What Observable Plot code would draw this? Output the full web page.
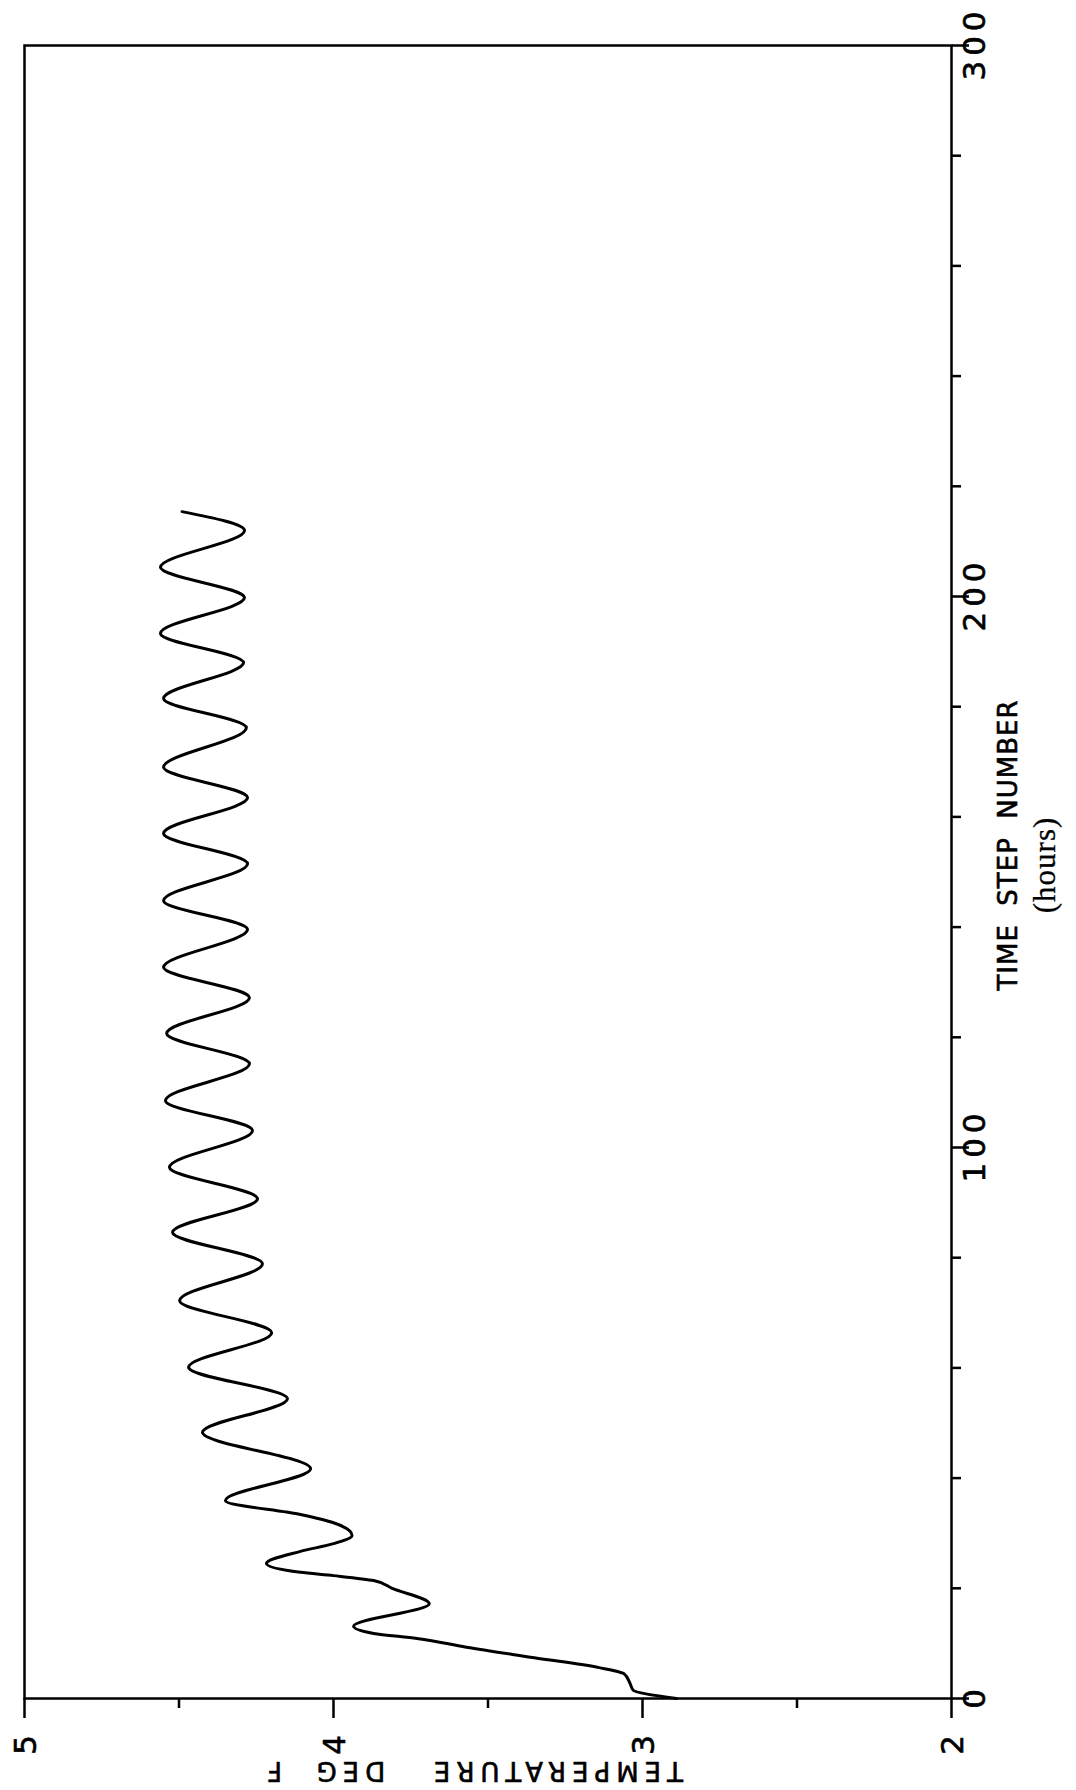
<!DOCTYPE html>
<html><head><meta charset="utf-8">
<script src="https://cdn.jsdelivr.net/npm/d3@7"></script>
<script src="https://cdn.jsdelivr.net/npm/@observablehq/plot@0.6"></script>
<style>
html,body{margin:0;padding:0;background:#fff;}
svg text{white-space:pre;}
</style></head><body><div id="chart"></div>
<script>
// Time step (hours)
const timeStep = [0, 1.5, 2.7, 4.5, 5.6, 7.4, 9.3, 10.9, 11.8, 13.1,
  17.2, 20.0, 21.4, 22.3, 22.9, 24.5, 26.7, 28.1, 29.6, 31.9, 33.4, 35.9,
  41.7, 48.3, 54.4, 60.1, 66.4, 72.2, 78.9, 84.6, 90.7, 96.4, 103.1, 108.5,
  115.2, 120.7, 127.2, 132.7, 139.6, 144.8, 151.5, 157.0, 163.5, 169.0,
  176.2, 181.5, 188.0, 193.3, 199.8, 205.3, 212.0, 215.4];
// Temperature (deg F) at those steps
const temperature = [2.89, 3.03, 3.04, 3.06, 3.14, 3.35, 3.57, 3.73, 3.87, 3.935,
  3.69, 3.81, 3.87, 4.0, 4.107, 4.217, 4.107, 4.0, 3.94, 4.0, 4.107, 4.35,
  4.074, 4.424, 4.149, 4.469, 4.20, 4.498, 4.23, 4.521, 4.246, 4.531, 4.262, 4.544,
  4.272, 4.54, 4.272, 4.55, 4.278, 4.55, 4.278, 4.55, 4.278, 4.55,
  4.282, 4.55, 4.291, 4.56, 4.288, 4.56, 4.288, 4.49];

const tempMajorTicks = [5, 4, 3, 2];
const tempMinorTicks = [4.5, 3.5, 2.5];
const timeMajorTicks = [0, 100, 200, 300];
const timeMinorTicks = [20, 40, 60, 80, 120, 140, 160, 180, 220, 240, 260, 280];
const xTitle = "TIME  STEP  NUMBER";
const xSubtitle = "(hours)";
const yTitle = "TEMPERATURE   DEG  F";

const data = timeStep.map((t, i) => ({t, temp: temperature[i]}));

const pen = {textAnchor: "middle", lineAnchor: "middle", fill: "#000", stroke: "#000", strokeWidth: 0.6};

const chart = Plot.plot({
  width: 1076, height: 1790,
  marginLeft: 24, marginRight: 125, marginTop: 45, marginBottom: 92,
  style: {background: "#fff", color: "#000", fontFamily: "DejaVu Sans"},
  x: {domain: [5, 2]},
  y: {domain: [0, 300]},
  marks: [
    Plot.frame({stroke: "#000", strokeWidth: 2.5}),
    Plot.axisX({ticks: tempMajorTicks, anchor: "bottom", tickSize: 20, tickFormat: () => "", strokeWidth: 2.5, label: null}),
    Plot.axisX({ticks: tempMinorTicks, anchor: "bottom", tickSize: 10, tickFormat: () => "", strokeWidth: 2.5, label: null}),
    Plot.axisY({ticks: timeMajorTicks, anchor: "right", tickSize: 17, tickFormat: () => "", strokeWidth: 2.5, label: null}),
    Plot.axisY({ticks: timeMinorTicks, anchor: "right", tickSize: 9, tickFormat: () => "", strokeWidth: 2.5, label: null}),
    Plot.text(timeMajorTicks, {...pen, y: d => d, text: d => String(d), frameAnchor: "right", dx: 24, dy: -2, rotate: -90, fontSize: 31}),
    Plot.text(tempMajorTicks, {...pen, x: d => d, text: d => String(d), frameAnchor: "bottom", dy: 44, dx: 2, rotate: -90, fontSize: 31}),
    Plot.text([xTitle], {...pen, frameAnchor: "right", dx: 57, dy: -27, rotate: -90, fontSize: 26}),
    Plot.text([xSubtitle], {...pen, strokeWidth: 0.3, frameAnchor: "right", dx: 94, dy: -7, rotate: -90, fontSize: 31, fontFamily: "Liberation Serif"}),
    Plot.text([yTitle], {...pen, frameAnchor: "bottom", dx: -16, dy: 72, rotate: 180, fontSize: 26}),
    Plot.line(data, {x: "temp", y: "t", curve: "monotone-y", stroke: "#000", strokeWidth: 3, strokeLinejoin: "round", strokeLinecap: "round"})
  ]
});
// letter spacing of the plotter-style lettering
const spacing = new Map([[xTitle, 1], [yTitle, 6], [xSubtitle, 1]]);
timeMajorTicks.concat(tempMajorTicks).forEach(d => spacing.set(String(d), 5));
d3.select(chart).selectAll("text").each(function () {
  const s = spacing.get(this.textContent);
  if (s != null) this.style.letterSpacing = s + "px";
});
document.getElementById("chart").appendChild(chart);
</script></body></html>
